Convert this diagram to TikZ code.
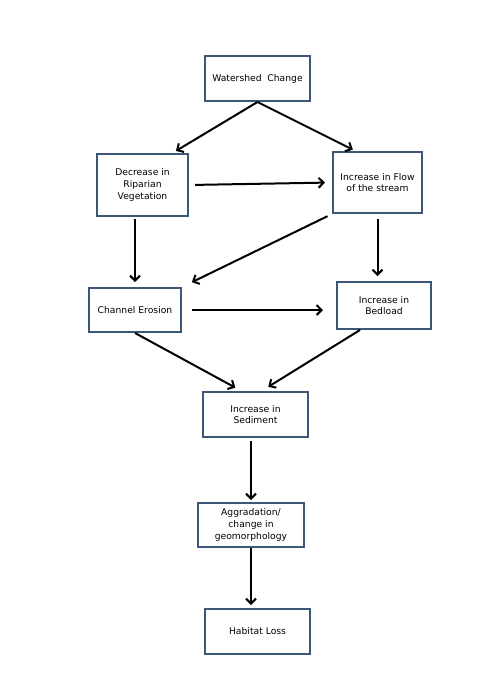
\documentclass[tikz,border=0pt]{standalone}
\usepackage{fontspec}
\setmainfont{DejaVu Sans}
\usetikzlibrary{arrows.meta,calc,positioning}
\definecolor{boxline}{RGB}{60,88,120}

\begin{document}
\begin{tikzpicture}[x=1pt, y=-1pt, >={Straight Barb[length=5pt,width=10pt]},
    stage/.style={draw=boxline, line width=2pt, fill=white, align=center, inner sep=2pt,
      font=\fontsize{9.2}{11.6}\selectfont},
    link/.style={->, line width=2pt}]
  \useasboundingbox (0,0) rectangle (482,691);
  % stages
  \node[stage, minimum width=105pt, minimum height=45pt] (wc)  at (257.5,78.5) {Watershed\ \ Change};
  \node[stage, minimum width=91pt,  minimum height=62pt] (drv) at (142.5,185) {Decrease in\\ Riparian\\ Vegetation};
  \node[stage, minimum width=89pt,  minimum height=61pt] (ifs) at (377.5,182.5) {Increase in Flow\\ of the stream};
  \node[stage, minimum width=92pt,  minimum height=44pt] (ce)  at (135,310) {Channel Erosion};
  \node[stage, minimum width=94pt,  minimum height=47pt] (bed) at (384,305.5) {Increase in\\ Bedload};
  \node[stage, minimum width=105pt, minimum height=45pt] (sed) at (255.5,414.5) {Increase in\\ Sediment};
  \node[stage, minimum width=106pt, minimum height=44pt] (agg) at (251,525) {Aggradation/\\ change in\\ geomorphology};
  \node[stage, minimum width=105pt, minimum height=45pt] (hab) at (257.5,631.5) {Habitat Loss};
  % links
  \draw[link, shorten >=4pt] (wc.south) -- ([xshift=30pt]drv.north);
  \draw[link, shorten >=3pt] (wc.south) -- ([xshift=-22pt]ifs.north);
  \draw[link, shorten <=6pt, shorten >=7pt] (drv.east) -- (ifs.west);
  \draw[link, shorten <=5pt, shorten >=11pt] (ifs.south west) -- (ce.north east);
  \draw[link, shorten <=2pt, shorten >=5pt] (drv.south -| ce.north) -- (ce.north);
  \draw[link, shorten <=5pt, shorten >=5pt] (ifs.south) -- (ifs.south |- bed.north);
  \draw[link, shorten <=10pt, shorten >=13pt] (ce.east) -- (ce.east -| bed.west);
  \draw[link, shorten >=7pt] (ce.south) -- ([xshift=-14pt]sed.north);
  \draw[link, shorten >=8pt] ([xshift=-24pt]bed.south) -- ([xshift=6pt]sed.north);
  \draw[link, shorten <=3pt, shorten >=2pt] (agg.north |- sed.south) -- (agg.north);
  \draw[link, shorten >=3pt] (agg.south) -- (agg.south |- hab.north);
\end{tikzpicture}
\end{document}
